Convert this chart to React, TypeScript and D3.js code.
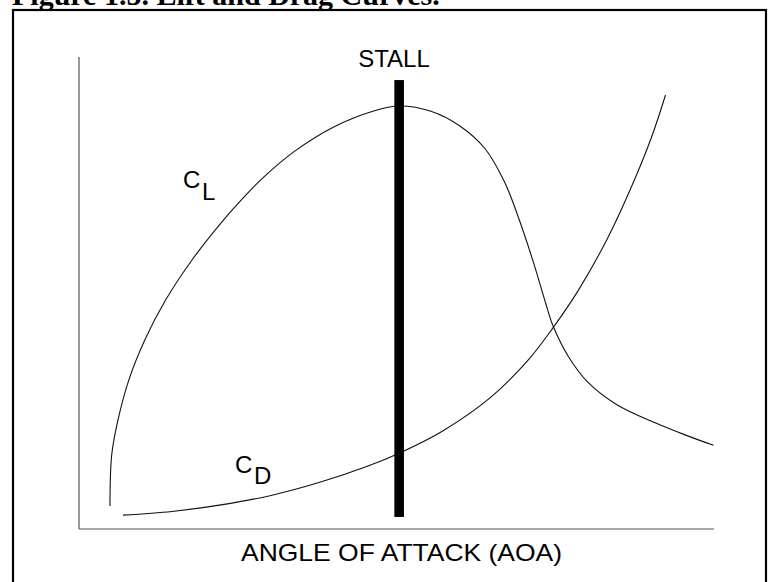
import React from "react";
import * as d3 from "d3";

// Angle of attack (deg) vs coefficient
const clAoa = [1.17, 1.236, 1.474, 1.882, 2.487, 3.273, 4.271, 5.458, 6.376, 6.981, 8.115, 9.627, 11.139, 12.095, 13.3, 14.41, 15.34, 16.08, 16.63, 17.19, 17.65, 17.93, 18.49, 19.23, 20.33, 21.82, 22.93, 23.98];
const clValues = [0.088, 0.282, 0.416, 0.568, 0.721, 0.873, 1.026, 1.178, 1.281, 1.342, 1.438, 1.533, 1.594, 1.613, 1.593, 1.536, 1.451, 1.324, 1.182, 1.012, 0.857, 0.771, 0.659, 0.56, 0.474, 0.403, 0.358, 0.319];
const cdAoa = [1.663, 3.515, 5.367, 7.219, 9.071, 10.923, 12.121, 13.682, 15.534, 17.008, 17.934, 18.871, 19.983, 20.909, 21.649, 22.167];
const cdValues = [0.053, 0.067, 0.092, 0.127, 0.177, 0.24, 0.29, 0.37, 0.5, 0.648, 0.77, 0.91, 1.11, 1.312, 1.497, 1.655];
const stallAoa = 12.1;
const stallRange = [0.046, 1.712];
const xDomain = [0, 24];
const yDomain = [0, 1.8];

const title = "Figure 1.5. Lift and Drag Curves.";
const xLabel = "ANGLE OF ATTACK (AOA)";
const stallLabel = "STALL";

export default function App() {
  const x = d3.scaleLinear().domain(xDomain).range([79, 714]);
  const y = d3.scaleLinear().domain(yDomain).range([529, 57]);
  const line = d3
    .line<[number, number]>()
    .x((d) => x(d[0]))
    .y((d) => y(d[1]))
    .curve(d3.curveCatmullRom.alpha(0.5));
  const clPath = line(clAoa.map((a, i) => [a, clValues[i]]) as [number, number][]) || "";
  const cdPath = line(cdAoa.map((a, i) => [a, cdValues[i]]) as [number, number][]) || "";
  const sans = "'Liberation Sans', Arial, sans-serif";
  return (
    <div style={{ position: "fixed", left: 0, top: 0, width: 768, height: 582, background: "#fff" }}>
      <svg width={768} height={582} style={{ display: "block" }}>
        <rect x={0} y={0} width={768} height={582} fill="#fff" />
        <text x={12} y={5} fontFamily="'Liberation Serif', 'Times New Roman', serif" fontWeight="bold" fontSize={30} fill="#000">
          {title}
        </text>
        <rect x={13} y={10} width={753} height={620} fill="none" stroke="#000" strokeWidth={2.2} />
        {/* axes */}
        <line x1={x(xDomain[0])} x2={x(xDomain[0])} y1={y(yDomain[1])} y2={y(yDomain[0])} stroke="#555" strokeWidth={1.2} />
        <line x1={x(xDomain[0])} x2={x(xDomain[1])} y1={y(yDomain[0])} y2={y(yDomain[0])} stroke="#555" strokeWidth={1.2} />
        {/* curves */}
        <path d={clPath} fill="none" stroke="#111" strokeWidth={1.1} />
        <path d={cdPath} fill="none" stroke="#111" strokeWidth={1.1} />
        {/* stall bar */}
        <rect x={x(stallAoa) - 4.8} y={y(stallRange[1])} width={9.6} height={y(stallRange[0]) - y(stallRange[1])} fill="#000" />
        <text x={394} y={67} textAnchor="middle" fontFamily={sans} fontSize={24} fill="#000">
          {stallLabel}
        </text>
        <text x={241} y={561} textLength={321} lengthAdjust="spacingAndGlyphs" fontFamily={sans} fontSize={24} fill="#000">
          {xLabel}
        </text>
        {/* curve labels */}
        <text x={183} y={188} fontFamily={sans} fontSize={24} fill="#000">C</text>
        <text x={202} y={200} fontFamily={sans} fontSize={24} fill="#000">L</text>
        <text x={235} y={473} fontFamily={sans} fontSize={24} fill="#000">C</text>
        <text x={254} y={484} fontFamily={sans} fontSize={24} fill="#000">D</text>
      </svg>
    </div>
  );
}
